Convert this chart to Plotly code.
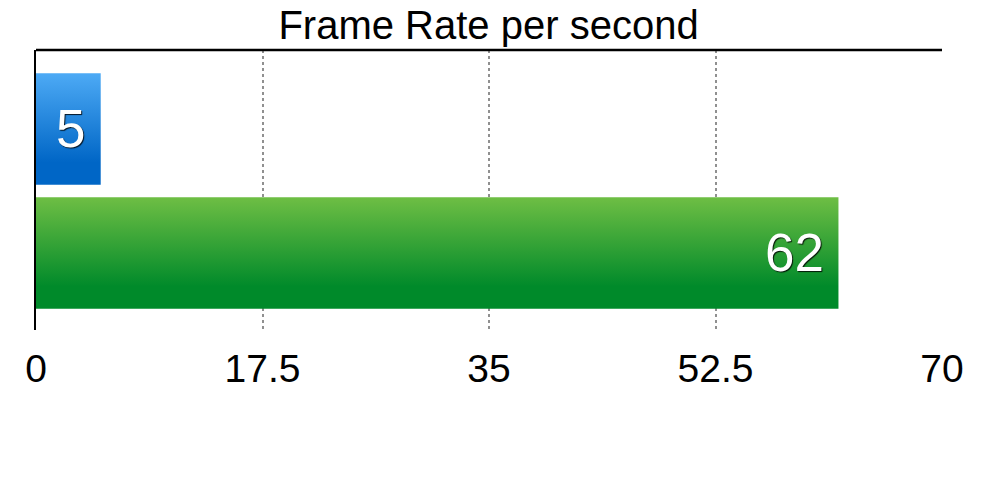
import plotly.graph_objects as go

# ---- data ----
categories = ["A", "B"]           # top to bottom
values = [5, 62]
labels = ["5", "62"]
positions = [1, 0]                # y slot of each bar
top_colors = ["#4DAAF5", "#6EBE44"]
bottom_colors = ["#0066C6", "#008A2A"]
x_ticks = [0, 17.5, 35, 52.5, 70]
x_tick_labels = ["0", "17.5", "35", "52.5", "70"]
title_text = "Frame Rate per second"

BAR_W = 0.9
FONT = "Helvetica Neue, Liberation Sans, Arial, sans-serif"

fig = go.Figure()

for cat, v, p, ct, cb in zip(categories, values, positions, top_colors, bottom_colors):
    y0, y1 = p - BAR_W / 2, p + BAR_W / 2
    fig.add_trace(go.Scatter(
        x=[0, v, v, 0, 0],
        y=[y0, y0, y1, y1, y0],
        mode="lines",
        line=dict(width=0),
        fill="toself",
        fillgradient=dict(type="vertical", start=y0, stop=y1,
                          colorscale=[[0, cb], [0.2, cb], [1, ct]]),
        name=cat,
        hoverinfo="skip",
        showlegend=False,
    ))

annotations = []
for v, p, lab in zip(values, positions, labels):
    if v > 20:
        annotations.append(dict(x=v, y=p, xref="x", yref="y", text=lab,
                                showarrow=False, xanchor="right", xshift=-12,
                                yanchor="middle"))
    else:
        annotations.append(dict(x=v / 2, y=p, xref="x", yref="y", text=lab,
                                showarrow=False, xanchor="center", xshift=2,
                                yanchor="middle"))
for a in annotations:
    a["font"] = dict(family=FONT, size=53, color="white",
                     shadow="1px 1px 1px rgba(0,0,0,0.85)")

fig.update_layout(
    width=982, height=480,
    margin=dict(l=36, r=40, t=50, b=150),
    paper_bgcolor="white", plot_bgcolor="white",
    title=dict(text=title_text, x=0.4975, xanchor="center",
               y=1 - 25 / 480, yanchor="middle", yref="container",
               font=dict(family=FONT, size=40, color="black")),
    xaxis=dict(range=[0, 70], tickvals=x_ticks, ticktext=x_tick_labels,
               showgrid=True, gridcolor="#909090", gridwidth=2,
               griddash="3px,3px", zeroline=False, showline=False,
               ticks="", ticklabelstandoff=12,
               tickfont=dict(family=FONT, size=39, color="black")),
    yaxis=dict(range=[-0.621, 1.637], showticklabels=False, showgrid=False,
               zeroline=False, showline=True, linecolor="black", linewidth=2,
               ticks=""),
    annotations=annotations,
    shapes=[dict(type="line", xref="paper", yref="paper", x0=0, x1=1,
                 y0=1, y1=1, line=dict(color="black", width=2.5))],
)

fig.write_html("out.html")
